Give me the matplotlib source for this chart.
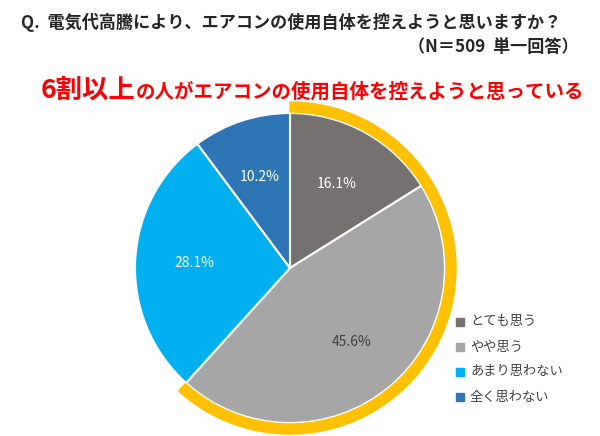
import matplotlib
matplotlib.use("Agg")
import matplotlib.pyplot as plt
from matplotlib.patches import Wedge

plt.rcParams['font.family'] = 'Noto Sans CJK JP'

# donnees
categories = ['とても思う', 'やや思う', 'あまり思わない', '全く思わない']
valeurs = [16.1, 45.6, 28.1, 10.2]
couleurs = ['#767171', '#a6a6a6', '#00b0f0', '#2e75b6']
couleurs_texte = ['white', '#404040', 'white', 'white']

W, H = 600, 436
fig = plt.figure(figsize=(W/100, H/100), dpi=100)
ax = fig.add_axes([0, 0, 1, 1])

cx, cy, r = 290, H - 268, 155
wedges, textes, pcts = ax.pie(valeurs, colors=couleurs, startangle=90, counterclock=False,
                              center=(cx, cy), radius=r, autopct='%.1f%%', pctdistance=0.62,
                              wedgeprops=dict(edgecolor='white', linewidth=1.5),
                              textprops=dict(fontsize=10))
for t, c in zip(pcts, couleurs_texte):
    t.set_color(c)

# arc orange : "とても思う" + "やや思う"
part = valeurs[0] + valeurs[1]
ax.add_patch(Wedge((cx, cy), r + 11, 90 - part*3.6, 90, width=10, color='#ffc000'))

ax.set_xlim(0, W)
ax.set_ylim(0, H)
ax.set_aspect('equal')
ax.axis('off')

# legende
for i, (cat, col) in enumerate(zip(categories, couleurs)):
    y = H - 322 - 25*i
    ax.add_patch(plt.Rectangle((456, y - 4), 8, 8, color=col))
    ax.text(470, y, cat, fontsize=9.5, va='center', color='#404040')

# titres
fig.text(0.035, 1 - 22/H, 'Q.  電気代高騰により、エアコンの使用自体を控えようと思いますか？',
         fontsize=12.3, fontweight='bold', va='center', color='#262626')
fig.text(0.965, 1 - 47/H, '（N＝509  単一回答）', fontsize=12.3, fontweight='bold',
         va='center', ha='right', color='#262626')
t1 = fig.text(0.067, 1 - 90/H, '6割以上', fontsize=19, fontweight='bold', color='#ff0000', va='center')
fig.canvas.draw()
bb = t1.get_window_extent()
fig.text(bb.x1/W + 0.002, 1 - 92/H, 'の人がエアコンの使用自体を控えようと思っている',
         fontsize=14, fontweight='bold', color='#ff0000', va='center')

fig.savefig('out.png', dpi=100)
